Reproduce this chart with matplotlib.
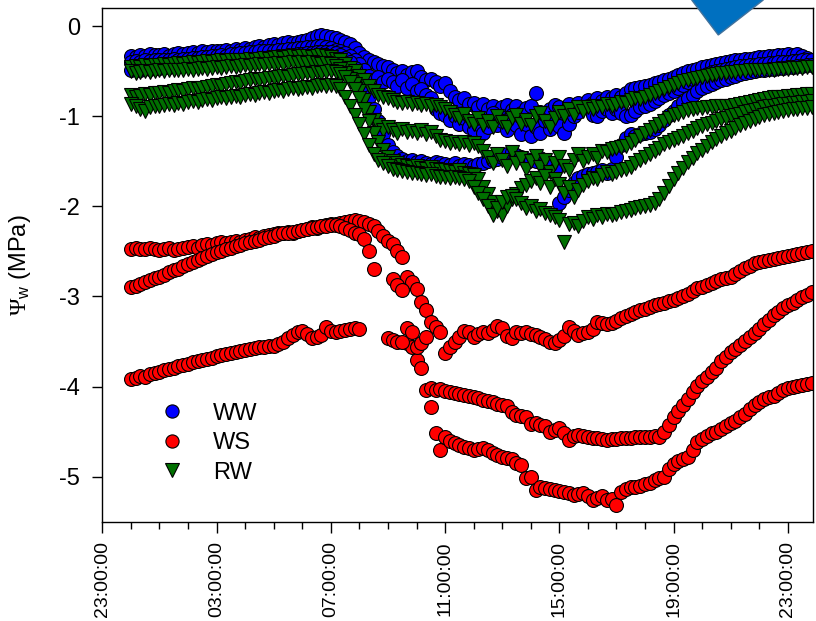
import numpy as np
import pandas as pd
import matplotlib
matplotlib.use('Agg')
import matplotlib.pyplot as plt
import matplotlib.dates as mdates
from matplotlib.patches import Polygon
from matplotlib.lines import Line2D

plt.rcParams['font.family'] = ['Liberation Sans', 'DejaVu Sans']
plt.rcParams['mathtext.fontset'] = 'custom'
plt.rcParams['mathtext.rm'] = 'Liberation Serif'
plt.rcParams['mathtext.it'] = 'Liberation Serif:italic'
plt.rcParams['mathtext.sf'] = 'Liberation Sans'

# 10-minute readings, 00:00 to 23:50 (one row = one hour)
times = pd.date_range('2000-01-02 00:00', periods=144, freq='10min')
nan = np.nan

ww_1 = [
    -0.33, -0.34, -0.32, -0.33, -0.31, -0.32,
    -0.32, -0.31, -0.33, -0.31, -0.30, -0.31,
    -0.30, -0.29, -0.30, -0.28, -0.29, -0.28,
    -0.27, -0.28, -0.26, -0.27, -0.25, -0.26,
    -0.24, -0.25, -0.23, -0.22, -0.23, -0.21,
    -0.20, -0.21, -0.19, -0.18, -0.19, -0.17,
    -0.16, -0.15, -0.13, -0.11, -0.10, -0.11,
    -0.12, -0.13, -0.15, -0.17, -0.20, -0.24,
    -0.30, -0.34, -0.38, -0.40, -0.42, -0.44,
    -0.45, -0.48, -0.52, -0.50, -0.54, -0.51,
    -0.50, -0.56, -0.60, -0.58, -0.62, -0.66,
    -0.63, -0.72, -0.78, -0.82, -0.80, -0.86,
    -0.85, -0.90, -0.86, -0.92, -0.88, -0.95,
    -0.90, -0.87, -0.93, -0.89, -0.96, -0.91,
    -0.88, -0.74, -0.95, -1.00, -0.92, -0.87,
    -0.90, -0.95, -0.86, -0.92, -0.85, -0.88,
    -0.82, -0.85, -0.80, -0.83, -0.78, -0.80,
    -0.76, -0.78, -0.74, -0.70, -0.68, -0.67,
    -0.66, -0.65, -0.63, -0.62, -0.60, -0.58,
    -0.56, -0.54, -0.52, -0.50, -0.49, -0.47,
    -0.45, -0.44, -0.43, -0.42, -0.41, -0.40,
    -0.39, -0.38, -0.37, -0.36, -0.36, -0.35,
    -0.34, -0.34, -0.33, -0.33, -0.32, -0.32,
    -0.31, -0.32, -0.31, -0.33, -0.35, -0.37,
]
ww_2 = [
    -0.40, -0.39, -0.40, -0.38, -0.39, -0.38,
    -0.38, -0.37, -0.38, -0.36, -0.37, -0.36,
    -0.36, -0.35, -0.35, -0.34, -0.34, -0.33,
    -0.33, -0.32, -0.33, -0.31, -0.31, -0.30,
    -0.30, -0.29, -0.29, -0.28, -0.28, -0.27,
    -0.27, -0.26, -0.26, -0.25, -0.25, -0.24,
    -0.24, -0.23, -0.23, -0.22, -0.22, -0.23,
    -0.24, -0.26, -0.28, -0.30, -0.33, -0.37,
    -0.42, -0.48, -0.55, -0.60, -0.56, -0.62,
    -0.58, -0.62, -0.66, -0.60, -0.68, -0.64,
    -0.72, -0.70, -0.76, -0.80, -0.92, -0.96,
    -0.98, -1.04, -1.00, -1.08, -1.02, -1.12,
    -1.15, -1.08, -1.18, -1.12, -0.96, -1.10,
    -1.05, -1.15, -0.98, -1.10, -1.20, -1.08,
    -1.22, -1.12, -1.18, -1.05, -1.14, -1.02,
    -1.11, -1.18, -1.08, -1.00, -0.95, -0.90,
    -0.89, -0.98, -1.00, -0.94, -0.92, -0.96,
    -0.92, -0.96, -1.00, -0.98, -0.94, -0.90,
    -0.89, -0.86, -0.83, -0.80, -0.76, -0.74,
    -0.72, -0.68, -0.65, -0.62, -0.59, -0.57,
    -0.55, -0.53, -0.51, -0.50, -0.48, -0.47,
    -0.46, -0.45, -0.44, -0.44, -0.43, -0.43,
    -0.42, -0.42, -0.41, -0.41, -0.40, -0.40,
    -0.40, -0.39, -0.39, -0.38, -0.38, -0.38,
]
ww_3 = [
    -0.48, -0.47, -0.48, -0.46, -0.47, -0.46,
    -0.46, -0.45, -0.45, -0.44, -0.44, -0.43,
    -0.43, -0.42, -0.42, -0.41, -0.41, -0.40,
    -0.40, -0.39, -0.39, -0.38, -0.38, -0.37,
    -0.37, -0.36, -0.36, -0.35, -0.35, -0.34,
    -0.34, -0.33, -0.33, -0.32, -0.32, -0.31,
    -0.31, -0.30, -0.30, -0.29, -0.29, -0.29,
    -0.29, -0.30, -0.32, -0.35, -0.40, -0.46,
    -0.55, -0.65, -0.78, -0.92, -1.05, -1.20,
    -1.32, -1.40, -1.44, -1.47, -1.50, -1.49,
    -1.51, -1.50, -1.52, -1.53, -1.51, -1.52,
    -1.53, -1.54, -1.52, -1.55, -1.53, -1.54,
    -1.55, -1.53, -1.52, -1.50, -1.48, -1.47,
    -1.45, -1.42, -1.40, -1.43, -1.45, -1.47,
    -1.48, -1.50, -1.46, -1.52, -1.55, -1.60,
    -1.96, -1.90, -1.82, -1.74, -1.68, -1.66,
    -1.64, -1.63, -1.62, -1.60, -1.63, -1.58,
    -1.45, -1.32, -1.24, -1.20, -1.22, -1.20,
    -1.18, -1.17, -1.14, -1.10, -1.04, -0.99,
    -0.94, -0.89, -0.84, -0.80, -0.76, -0.72,
    -0.69, -0.66, -0.64, -0.62, -0.60, -0.58,
    -0.56, -0.55, -0.53, -0.52, -0.51, -0.50,
    -0.49, -0.48, -0.47, -0.47, -0.46, -0.46,
    -0.45, -0.45, -0.44, -0.44, -0.43, -0.43,
]

ws_1 = [
    -2.47, -2.46, -2.47, -2.47, -2.46, -2.47,
    -2.48, -2.47, -2.46, -2.48, -2.47, -2.46,
    -2.45, -2.44, -2.46, -2.43, -2.42, -2.43,
    -2.41, -2.40, -2.41, -2.39, -2.38, -2.40,
    -2.37, -2.36, -2.34, -2.35, -2.33, -2.32,
    -2.31, -2.30, -2.29, -2.28, -2.29, -2.27,
    -2.26, -2.25, -2.23, -2.24, -2.22, -2.21,
    -2.20, -2.19, -2.18, -2.17, -2.16, -2.15,
    -2.16, -2.17, -2.19, -2.22, -2.27, -2.33,
    -2.38, -2.42, -2.50, -2.56, -2.78, -2.84,
    -2.92, -3.06, -3.15, -3.28, -3.34, -3.39,
    -3.63, -3.56, -3.50, -3.45, -3.38, -3.40,
    -3.45, -3.42, -3.40, -3.41, -3.37, -3.33,
    -3.35, -3.44, -3.46, -3.40, -3.41, -3.39,
    -3.42, -3.43, -3.45, -3.47, -3.50, -3.52,
    -3.48, -3.44, -3.34, -3.38, -3.43, -3.41,
    -3.40, -3.36, -3.28, -3.30, -3.31, -3.29,
    -3.27, -3.24, -3.22, -3.20, -3.17, -3.15,
    -3.14, -3.12, -3.10, -3.08, -3.07, -3.05,
    -3.04, -3.02, -3.00, -2.97, -2.94, -2.91,
    -2.89, -2.87, -2.85, -2.83, -2.81, -2.80,
    -2.78, -2.75, -2.72, -2.68, -2.66, -2.63,
    -2.62, -2.61, -2.59, -2.58, -2.57, -2.56,
    -2.55, -2.54, -2.53, -2.52, -2.51, -2.50,
]
ws_2 = [
    -2.90, -2.88, -2.86, -2.84, -2.82, -2.80,
    -2.78, -2.76, -2.73, -2.71, -2.69, -2.66,
    -2.64, -2.62, -2.59, -2.57, -2.55, -2.53,
    -2.51, -2.49, -2.47, -2.46, -2.44, -2.43,
    -2.41, -2.40, -2.38, -2.37, -2.35, -2.34,
    -2.33, -2.31, -2.30, -2.29, -2.28, -2.27,
    -2.26, -2.25, -2.24, -2.23, -2.22, -2.22,
    -2.21, -2.21, -2.22, -2.24, -2.26, -2.29,
    -2.31, -2.36, -2.50, -2.69, nan, nan,
    nan, -2.81, -2.87, -2.93, -3.52, -3.56,
    -3.70, -3.79, -4.04, -4.02, -4.04, -4.03,
    -4.05, -4.06, -4.07, -4.08, -4.09, -4.11,
    -4.12, -4.13, -4.15, -4.16, -4.17, -4.19,
    -4.20, -4.22, -4.28, -4.32, -4.33, -4.34,
    -4.42, -4.40, -4.43, -4.44, -4.50, -4.48,
    -4.46, -4.52, -4.59, -4.55, -4.54, -4.55,
    -4.56, -4.57, -4.57, -4.58, -4.59, -4.58,
    -4.58, -4.57, -4.57, -4.57, -4.56, -4.56,
    -4.56, -4.56, -4.55, -4.56, -4.50, -4.43,
    -4.34, -4.27, -4.21, -4.14, -4.06, -3.99,
    -3.94, -3.89, -3.84, -3.79, -3.72, -3.67,
    -3.62, -3.58, -3.54, -3.49, -3.45, -3.41,
    -3.36, -3.31, -3.26, -3.21, -3.17, -3.13,
    -3.10, -3.07, -3.04, -3.01, -2.98, -2.95,
]
ws_3 = [
    -3.92, -3.90, -3.88, -3.89, -3.86, -3.85,
    -3.84, -3.82, -3.81, -3.79, -3.77, -3.76,
    -3.75, -3.73, -3.72, -3.71, -3.69, -3.68,
    -3.66, -3.65, -3.64, -3.63, -3.62, -3.60,
    -3.59, -3.58, -3.57, -3.56, -3.56, -3.55,
    -3.55, -3.53, -3.50, -3.46, -3.43, -3.40,
    -3.38, -3.42, -3.46, -3.45, -3.43, -3.34,
    -3.38, -3.40, -3.38, -3.37, -3.36, -3.35,
    -3.36, nan, nan, nan, nan, nan,
    -3.46, -3.48, -3.50, -3.51, -3.35, -3.40,
    -3.56, -3.52, -3.45, -4.23, -4.52, -4.70,
    -4.56, -4.61, -4.63, -4.65, -4.67, -4.68,
    -4.70, -4.69, -4.68, -4.70, -4.74, -4.76,
    -4.78, -4.79, -4.81, -4.85, -4.87, -5.01,
    -5.00, -5.15, -5.11, -5.13, -5.14, -5.15,
    -5.16, -5.17, -5.18, -5.20, -5.19, -5.18,
    -5.22, -5.26, -5.24, -5.22, -5.26, -5.25,
    -5.31, -5.17, -5.14, -5.12, -5.11, -5.10,
    -5.08, -5.07, -5.04, -5.02, -5.00, -4.92,
    -4.86, -4.83, -4.81, -4.78, -4.70, -4.62,
    -4.58, -4.55, -4.52, -4.50, -4.47, -4.44,
    -4.41, -4.38, -4.34, -4.30, -4.25, -4.21,
    -4.17, -4.14, -4.12, -4.10, -4.07, -4.04,
    -4.02, -4.00, -3.99, -3.98, -3.97, -3.96,
]

rw_1 = [
    -0.45, -0.44, -0.45, -0.43, -0.44, -0.43,
    -0.43, -0.42, -0.43, -0.42, -0.41, -0.42,
    -0.41, -0.40, -0.41, -0.40, -0.39, -0.40,
    -0.39, -0.38, -0.39, -0.38, -0.37, -0.38,
    -0.37, -0.36, -0.37, -0.36, -0.35, -0.36,
    -0.35, -0.34, -0.35, -0.34, -0.33, -0.34,
    -0.33, -0.33, -0.34, -0.33, -0.32, -0.33,
    -0.34, -0.36, -0.38, -0.42, -0.46, -0.50,
    -0.55, -0.60, -0.66, -0.72, -0.76, -0.78,
    -0.80, -0.82, -0.84, -0.85, -0.84, -0.86,
    -0.85, -0.87, -0.86, -0.88, -0.87, -0.90,
    -0.92, -0.95, -0.98, -1.02, -0.97, -1.05,
    -1.08, -1.02, -1.10, -1.05, -1.12, -1.00,
    -1.06, -1.12, -1.02, -0.98, -1.08, -1.04,
    -1.10, -1.00, -0.96, -1.05, -1.12, -1.02,
    -0.95, -1.00, -0.92, -0.98, -0.90, -0.94,
    -0.90, -0.92, -0.88, -0.90, -0.86, -0.88,
    -0.86, -0.84, -0.85, -0.82, -0.80, -0.81,
    -0.78, -0.76, -0.74, -0.72, -0.70, -0.67,
    -0.65, -0.63, -0.61, -0.60, -0.58, -0.57,
    -0.56, -0.55, -0.54, -0.53, -0.52, -0.52,
    -0.51, -0.51, -0.50, -0.50, -0.49, -0.49,
    -0.49, -0.48, -0.48, -0.48, -0.47, -0.47,
    -0.47, -0.46, -0.46, -0.46, -0.45, -0.45,
]
rw_2 = [
    -0.50, -0.52, -0.51, -0.50, -0.51, -0.50,
    -0.49, -0.50, -0.49, -0.48, -0.49, -0.48,
    -0.47, -0.48, -0.47, -0.46, -0.47, -0.46,
    -0.45, -0.46, -0.45, -0.44, -0.45, -0.44,
    -0.43, -0.44, -0.43, -0.42, -0.43, -0.42,
    -0.42, -0.41, -0.42, -0.41, -0.40, -0.41,
    -0.40, -0.41, -0.40, -0.41, -0.42, -0.41,
    -0.42, -0.44, -0.47, -0.52, -0.58, -0.64,
    -0.72, -0.82, -0.95, -1.04, -1.10, -1.15,
    -1.12, -1.15, -1.18, -1.14, -1.17, -1.16,
    -1.18, -1.15, -1.20, -1.17, -1.22, -1.26,
    -1.27, -1.30, -1.28, -1.31, -1.29, -1.32,
    -1.30, -1.33, -1.38, -1.45, -1.52, -1.42,
    -1.48, -1.55, -1.40, -1.52, -1.46, -1.58,
    -1.50, -1.44, -1.56, -1.48, -1.62, -1.52,
    -1.45, -1.55, -1.60, -1.48, -1.42, -1.50,
    -1.45, -1.42, -1.46, -1.38, -1.40, -1.36,
    -1.35, -1.34, -1.33, -1.30, -1.26, -1.22,
    -1.18, -1.15, -1.12, -1.08, -1.05, -1.02,
    -0.99, -0.97, -0.95, -0.93, -0.92, -0.91,
    -0.91, -0.90, -0.90, -0.89, -0.89, -0.88,
    -0.88, -0.87, -0.86, -0.85, -0.84, -0.83,
    -0.82, -0.81, -0.80, -0.79, -0.78, -0.78,
    -0.77, -0.77, -0.76, -0.76, -0.75, -0.75,
]
rw_3 = [
    -0.76, -0.78, -0.77, -0.75, -0.76, -0.74,
    -0.74, -0.73, -0.74, -0.72, -0.71, -0.72,
    -0.70, -0.69, -0.70, -0.68, -0.67, -0.66,
    -0.65, -0.66, -0.64, -0.63, -0.62, -0.63,
    -0.61, -0.60, -0.59, -0.60, -0.58, -0.57,
    -0.57, -0.56, -0.55, -0.56, -0.54, -0.53,
    -0.53, -0.52, -0.53, -0.51, -0.52, -0.51,
    -0.50, -0.51, -0.53, -0.56, -0.62, -0.70,
    -0.80, -0.92, -1.05, -1.18, -1.28, -1.37,
    -1.45, -1.50, -1.52, -1.54, -1.55, -1.56,
    -1.55, -1.57, -1.58, -1.56, -1.59, -1.60,
    -1.60, -1.61, -1.62, -1.60, -1.63, -1.64,
    -1.65, -1.70, -1.78, -1.86, -1.95, -2.05,
    -2.10, -2.00, -1.92, -1.86, -1.80, -1.76,
    -1.72, -1.68, -1.74, -1.66, -1.78, -1.70,
    -1.75, -1.85, -1.78, -1.90, -1.82, -1.76,
    -1.72, -1.68, -1.70, -1.65, -1.62, -1.64,
    -1.62, -1.60, -1.59, -1.56, -1.52, -1.48,
    -1.45, -1.42, -1.38, -1.35, -1.31, -1.28,
    -1.26, -1.24, -1.22, -1.19, -1.16, -1.13,
    -1.11, -1.09, -1.07, -1.05, -1.03, -1.02,
    -1.00, -0.98, -0.97, -0.95, -0.94, -0.93,
    -0.92, -0.90, -0.89, -0.88, -0.87, -0.86,
    -0.86, -0.85, -0.85, -0.84, -0.84, -0.83,
]
rw_4 = [
    -0.86, -0.88, -0.92, -0.94, -0.90, -0.89,
    -0.88, -0.87, -0.86, -0.87, -0.85, -0.86,
    -0.84, -0.83, -0.84, -0.82, -0.81, -0.82,
    -0.80, -0.79, -0.80, -0.78, -0.77, -0.78,
    -0.76, -0.75, -0.76, -0.74, -0.73, -0.74,
    -0.72, -0.71, -0.72, -0.70, -0.69, -0.70,
    -0.68, -0.67, -0.68, -0.66, -0.65, -0.66,
    -0.65, -0.66, -0.70, -0.78, -0.88, -0.98,
    -1.08, -1.20, -1.32, -1.42, -1.48, -1.52,
    -1.55, -1.58, -1.60, -1.61, -1.62, -1.63,
    -1.63, -1.64, -1.65, -1.64, -1.66, -1.67,
    -1.67, -1.68, -1.67, -1.69, -1.70, -1.72,
    -1.78, -1.85, -1.92, -2.00, -2.10, -2.02,
    -1.95, -1.90, -1.88, -1.92, -1.96, -2.02,
    -2.00, -2.05, -2.03, -2.07, -2.10, -2.12,
    -2.15, -2.40, -2.20, -2.18, -2.22, -2.16,
    -2.12, -2.14, -2.10, -2.12, -2.08, -2.10,
    -2.08, -2.06, -2.05, -2.04, -2.02, -2.01,
    -2.00, -1.98, -1.96, -1.92, -1.85, -1.77,
    -1.70, -1.63, -1.57, -1.51, -1.46, -1.41,
    -1.37, -1.33, -1.29, -1.25, -1.22, -1.19,
    -1.16, -1.13, -1.10, -1.07, -1.05, -1.03,
    -1.01, -0.99, -0.97, -0.96, -0.95, -0.94,
    -0.93, -0.92, -0.92, -0.91, -0.91, -0.90,
]

groups = [
    ('WW', [ww_1, ww_2, ww_3], 'o', '#0000ff'),
    ('WS', [ws_1, ws_2, ws_3], 'o', '#ff0000'),
    ('RW', [rw_1, rw_2, rw_3, rw_4], 'v', '#007000'),
]

fig = plt.figure(figsize=(8.16, 6.21), dpi=100)
ax = fig.add_axes([0.1254, 0.160, 0.871, 0.8267])

handles = []
for name, traces, mk, col in groups:
    ms = 10 if mk == 'o' else 10.5
    for vals in traces:
        ax.plot(times, vals, ls='none', marker=mk, ms=ms, mfc=col,
                mec='black', mew=0.8)
    handles.append(Line2D([], [], ls='none', marker=mk, ms=ms - 0.5, mfc=col,
                          mec='black', mew=0.8, label=name))

ax.set_xlim(pd.Timestamp('2000-01-01 23:00'), pd.Timestamp('2000-01-02 23:53'))
ax.set_ylim(-5.5, 0.2)
ax.set_yticks([0, -1, -2, -3, -4, -5])
ax.set_yticklabels(['0', '-1', '-2', '-3', '-4', '-5'])

ax.xaxis.set_major_locator(mdates.HourLocator(byhour=[23, 3, 7, 11, 15, 19]))
ax.xaxis.set_minor_locator(mdates.HourLocator())
ax.xaxis.set_major_formatter(mdates.DateFormatter('%H:%M:%S'))
ax.tick_params(axis='x', which='major', labelsize=14, rotation=90,
               length=8, width=1, pad=6)
ax.tick_params(axis='x', which='minor', length=5, width=1)
ax.tick_params(axis='y', labelsize=17, length=7, width=1, pad=9)
for sp in ax.spines.values():
    sp.set_linewidth(1.0)

ax.set_ylabel(r'$\Psi_{\mathsf{w}}$ (MPa)', fontsize=17)
ax.yaxis.set_label_coords(-0.097, 0.5)

ax.legend(handles=handles, loc='upper left', bbox_to_anchor=(0.0815, 0.232),
          frameon=False, fontsize=17, handlelength=1.0, handletextpad=1.24,
          labelspacing=0.32, borderpad=0, borderaxespad=0, numpoints=1)

# blue arrow shape partly visible at the top edge
W, H = 816, 621
arrow = Polygon([(691.7 / W, 1.0), (718.3 / W, 1 - 35 / H), (763.3 / W, 1.0),
                 (737 / W, 1 + 35 / H)], closed=True, transform=fig.transFigure,
                facecolor='#0070c0', edgecolor='#41719c', lw=1, clip_on=False)
fig.add_artist(arrow)

fig.savefig('out.png', dpi=100)
